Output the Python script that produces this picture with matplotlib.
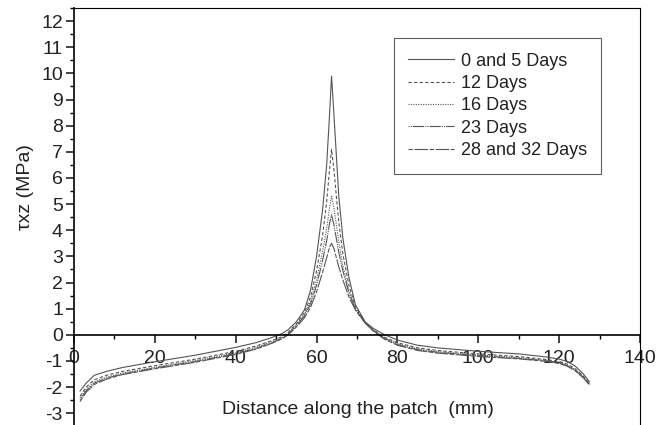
import matplotlib
matplotlib.use("Agg")
import matplotlib.pyplot as plt
from matplotlib.ticker import MultipleLocator

plt.rcParams['font.family'] = ['Liberation Sans', 'DejaVu Sans']
plt.rcParams['axes.unicode_minus'] = False

x = [1.5, 3, 5, 8, 12, 20, 30, 40, 45, 49, 51.5, 53, 55, 57, 58.5, 60, 61.5, 62.5, 63.2, 63.7,
     64.3, 65.5, 66.5, 68, 69.6, 72, 74, 76.6, 80, 85, 90, 100, 110, 117, 120, 122, 124, 126, 127.5]

d0_5 = [-2.15, -1.85, -1.55, -1.4, -1.25, -1.03, -0.78, -0.48, -0.3, -0.1, 0.05, 0.2, 0.5, 0.95, 1.7, 3.0, 4.8, 6.5, 8.4, 9.9,
        8.4, 5.3, 3.7, 2.2, 1.15, 0.5, 0.25, 0.02, -0.2, -0.4, -0.5, -0.63, -0.73, -0.85, -0.93, -1.02, -1.2, -1.5, -1.8]
d12 = [-2.35, -2.0, -1.72, -1.55, -1.4, -1.18, -0.93, -0.63, -0.43, -0.22, -0.07, 0.1, 0.42, 0.85, 1.45, 2.45, 3.8, 5.1, 6.3, 7.1,
       6.3, 4.3, 3.1, 1.9, 1.08, 0.48, 0.2, -0.08, -0.3, -0.5, -0.6, -0.73, -0.83, -0.95, -1.03, -1.12, -1.3, -1.58, -1.86]
d16 = [-2.42, -2.08, -1.8, -1.62, -1.46, -1.24, -0.98, -0.68, -0.48, -0.26, -0.1, 0.06, 0.38, 0.78, 1.3, 2.1, 3.2, 4.05, 4.85, 5.3,
       4.85, 3.55, 2.65, 1.7, 1.02, 0.47, 0.18, -0.1, -0.34, -0.54, -0.64, -0.77, -0.87, -0.98, -1.06, -1.16, -1.33, -1.6, -1.88]
d23 = [-2.5, -2.14, -1.85, -1.66, -1.5, -1.27, -1.02, -0.72, -0.52, -0.3, -0.13, 0.03, 0.34, 0.72, 1.18, 1.9, 2.85, 3.6, 4.25, 4.6,
       4.2, 3.15, 2.45, 1.6, 0.98, 0.46, 0.16, -0.12, -0.37, -0.57, -0.67, -0.8, -0.9, -1.0, -1.08, -1.18, -1.36, -1.63, -1.9]
d28_32 = [-2.55, -2.2, -1.9, -1.7, -1.52, -1.3, -1.05, -0.75, -0.55, -0.32, -0.15, 0.0, 0.3, 0.65, 1.05, 1.65, 2.4, 2.95, 3.35, 3.5,
          3.3, 2.6, 2.1, 1.45, 0.95, 0.45, 0.15, -0.15, -0.4, -0.6, -0.7, -0.83, -0.92, -1.02, -1.1, -1.2, -1.38, -1.65, -1.92]

labels = ["0 and 5 Days", "12 Days", "16 Days", "23 Days", "28 and 32 Days"]
series = [d0_5, d12, d16, d23, d28_32]
styles = ['-', (0, (3, 2)), (0, (1, 1.2)), (0, (1, 1, 1, 1, 10, 1)), (0, (4, 1.5, 12, 1.5))]

fig = plt.figure(figsize=(6.56, 4.25), dpi=100)
ax = fig.add_axes([74 / 656, 0.0, (640 - 74) / 656, 0.981])

for y, lab, ls in zip(series, labels, styles):
    ax.plot(x, y, color='#555555', lw=0.8, ls=ls, label=lab)

ax.set_xlim(0, 140)
ax.set_ylim(-3.45, 12.5)
ax.spines['bottom'].set_position(('data', 0))
ax.spines['bottom'].set_linewidth(1.2)
ax.spines['left'].set_linewidth(1.2)
ax.spines['top'].set_linewidth(0.8)
ax.spines['right'].set_linewidth(0.8)

ax.xaxis.set_major_locator(MultipleLocator(20))
ax.xaxis.set_minor_locator(MultipleLocator(10))
ax.yaxis.set_major_locator(MultipleLocator(1))
ax.yaxis.set_minor_locator(MultipleLocator(0.5))
ax.tick_params(axis='both', which='major', direction='out', length=6, width=1.2, labelsize=14, colors='#222222')
ax.tick_params(axis='both', which='minor', direction='out', length=3, width=1.0)
ax.tick_params(axis='x', which='major', pad=5)
ax.tick_params(axis='y', which='major', pad=2)
for lbl in ax.get_xticklabels() + ax.get_yticklabels():
    lbl.set_color('#222222')

fig.text(25 / 656, 1 - 187 / 425, "τxz (MPa)", rotation=90, ha='center', va='center', fontsize=14, color='#222222')
fig.text(358 / 656, 1 - 409 / 425, "Distance along the patch  (mm)", ha='center', va='center', fontsize=14, color='#222222')

leg = ax.legend(loc='upper left', bbox_to_anchor=((394 - 74) / 566, 1 - (38 - 8) / 417),
                borderaxespad=0, fontsize=13, frameon=True, fancybox=False, edgecolor='#333333',
                handlelength=2.5, handletextpad=0.4, labelspacing=0.3, borderpad=0.8)
leg.get_frame().set_linewidth(0.8)
for t in leg.get_texts():
    t.set_color('#222222')

fig.savefig("out.png", dpi=100)
